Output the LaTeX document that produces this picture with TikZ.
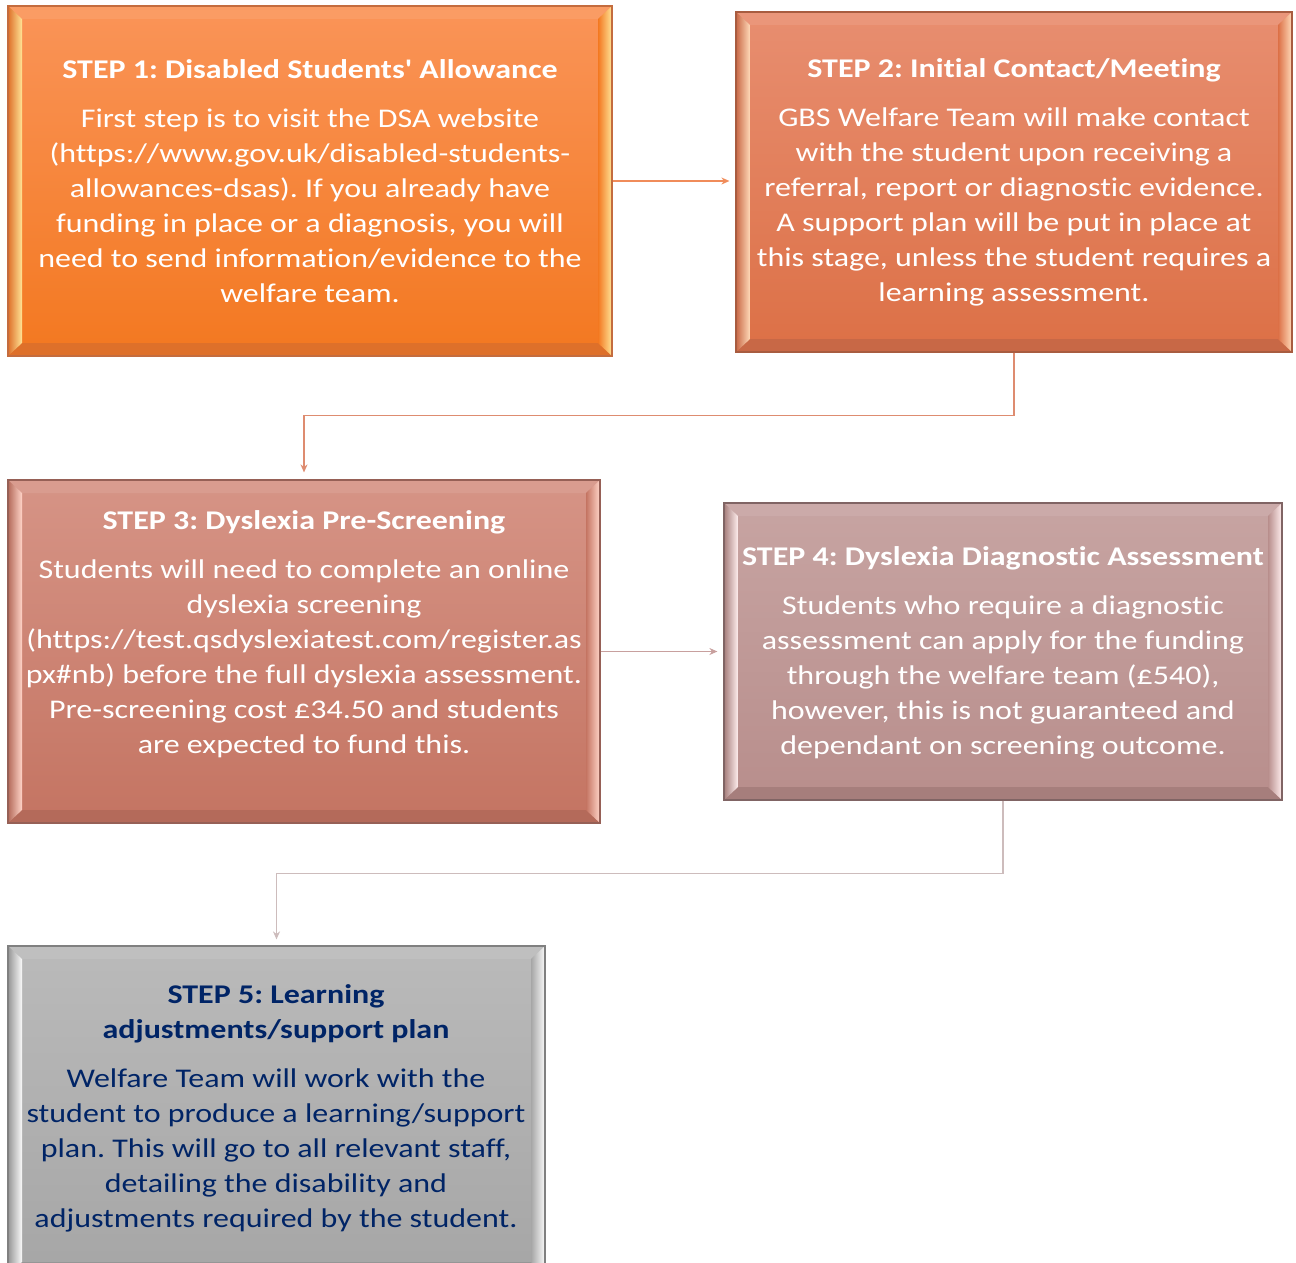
\documentclass[tikz,border=0pt]{standalone}
\usepackage{fontspec}
\setmainfont{Carlito}[Ligatures=NoCommon]
\frenchspacing
\usetikzlibrary{arrows.meta,calc}

% face colours (top / bottom), bevel highlight, bevel shade, rim
\definecolor{oneTop}{RGB}{250,148,88}
\definecolor{oneBot}{RGB}{243,120,32}
\definecolor{oneHi}{RGB}{255,228,150}
\definecolor{oneSh}{RGB}{222,112,42}
\definecolor{oneRim}{RGB}{196,108,62}

\definecolor{twoTop}{RGB}{232,142,112}
\definecolor{twoBot}{RGB}{220,112,70}
\definecolor{twoHi}{RGB}{255,218,185}
\definecolor{twoSh}{RGB}{200,104,70}
\definecolor{twoRim}{RGB}{168,92,64}

\definecolor{thrTop}{RGB}{214,148,134}
\definecolor{thrBot}{RGB}{196,116,98}
\definecolor{thrHi}{RGB}{255,212,200}
\definecolor{thrSh}{RGB}{180,106,90}
\definecolor{thrRim}{RGB}{150,96,86}

\definecolor{fouTop}{RGB}{199,164,162}
\definecolor{fouBot}{RGB}{184,142,140}
\definecolor{fouHi}{RGB}{255,238,238}
\definecolor{fouSh}{RGB}{166,126,124}
\definecolor{fouRim}{RGB}{128,100,100}

\definecolor{fivTop}{RGB}{186,186,186}
\definecolor{fivBot}{RGB}{166,166,166}
\definecolor{fivHi}{RGB}{250,250,250}
\definecolor{fivSh}{RGB}{150,150,150}
\definecolor{fivRim}{RGB}{128,128,128}

\definecolor{navy}{RGB}{0,36,102}
\definecolor{lnOne}{RGB}{240,140,90}
\definecolor{lnTwo}{RGB}{222,140,112}
\definecolor{lnThr}{RGB}{200,160,158}
\definecolor{lnFou}{RGB}{205,188,188}

\tikzset{
  % bevelled panel: #1 face top, #2 face bottom, #3 highlight, #4 shade, #5 rim
  bevelbox/.style n args={5}{
    rectangle, inner sep=0pt, top color=#1, bottom color=#2,
    draw=#5, line width=1.2pt,
    path picture={
      \coordinate (bNW) at (path picture bounding box.north west);
      \coordinate (bNE) at (path picture bounding box.north east);
      \coordinate (bSW) at (path picture bounding box.south west);
      \coordinate (bSE) at (path picture bounding box.south east);
      \coordinate (iNW) at ($(bNW)+(14pt,-13pt)$);
      \coordinate (iNE) at ($(bNE)+(-14pt,-13pt)$);
      \coordinate (iSW) at ($(bSW)+(14pt,13pt)$);
      \coordinate (iSE) at ($(bSE)+(-14pt,13pt)$);
      \fill[#4] (bSW) -- (bSE) -- (iSE) -- (iSW) -- cycle;
      \fill[#1!93!white] (bNW) -- (bNE) -- (iNE) -- (iNW) -- cycle;
      \shade[left color=#4, right color=#3] (bNW) -- (iNW) -- (iSW) -- (bSW) -- cycle;
      \shade[left color=#2, middle color=#3!70!#2, right color=#3] (bNE) -- (iNE) -- (iSE) -- (bSE) -- cycle;
    }
  },
  steptext/.style={align=center, text=white, inner sep=0pt, xscale=1.185,
    font=\fontsize{27}{35}\selectfont},
  link/.style={-{Stealth[length=8pt,width=7pt]}, line width=1.4pt},
}

\begin{document}
\begin{tikzpicture}[x=1pt,y=-1pt]
\useasboundingbox (0,0) rectangle (1296,1263);

% panels
\node[bevelbox={oneTop}{oneBot}{oneHi}{oneSh}{oneRim},
      minimum width=604pt, minimum height=350pt] (s1) at (310,181) {};
\node[bevelbox={twoTop}{twoBot}{twoHi}{twoSh}{twoRim},
      minimum width=556pt, minimum height=340pt] (s2) at (1014,182) {};
\node[bevelbox={thrTop}{thrBot}{thrHi}{thrSh}{thrRim},
      minimum width=592pt, minimum height=343pt] (s3) at (304,651.5) {};
\node[bevelbox={fouTop}{fouBot}{fouHi}{fouSh}{fouRim},
      minimum width=558pt, minimum height=297pt] (s4) at (1003,651.5) {};
\node[bevelbox={fivTop}{fivBot}{fivHi}{fivSh}{fivRim},
      minimum width=537pt, minimum height=329pt] (s5) at (276.5,1110.5) {};

% panel texts
\node[steptext] (t1) at (310,181.5) {\textbf{STEP 1: Disabled Students\textquotesingle\ Allowance}\\[14pt]
  First step is to visit the DSA website\\
  (https://www.gov.uk/disabled-students-\\
  allowances-dsas). If you already have\\
  funding in place or a diagnosis, you will\\
  need to send information/evidence to the\\
  welfare team.};

\node[steptext] (t2) at (1014,182) {\textbf{STEP 2: Initial Contact/Meeting}\\[14pt]
  GBS Welfare Team will make contact\\
  with the student upon receiving a\\
  referral, report or diagnostic evidence.\\
  A support plan will be put in place at\\
  this stage, unless the student requires a\\
  learning assessment.};

\node[steptext] (t3) at (304,634) {\textbf{STEP 3: Dyslexia Pre-Screening}\\[14pt]
  Students will need to complete an online\\
  dyslexia screening\\
  (https://test.qsdyslexiatest.com/register.as\\
  px\#nb) before the full dyslexia assessment.\\
  Pre-screening cost £34.50 and students\\
  are expected to fund this.};

\node[steptext] (t4) at (1003,652.5) {\textbf{STEP 4: Dyslexia Diagnostic Assessment}\\[14pt]
  Students who require a diagnostic\\
  assessment can apply for the funding\\
  through the welfare team (£540),\\
  however, this is not guaranteed and\\
  dependant on screening outcome.};

\node[steptext, text=navy] (t5) at (276,1108.5) {\textbf{STEP 5: Learning}\\
  \textbf{adjustments/support plan}\\[14pt]
  Welfare Team will work with the\\
  student to produce a learning/support\\
  plan. This will go to all relevant staff,\\
  detailing the disability and\\
  adjustments required by the student.};

% connectors
\draw[link, lnOne, shorten >=6pt] (s1.east) -- (s1.east -| s2.west);
\draw[link, lnTwo, shorten >=7pt] (s2.south) -- ++(0,63) -| (s3.north);
\draw[link, lnThr, shorten >=6pt] (s3.east) -- (s3.east -| s4.west);
\draw[link, lnFou, shorten >=6pt] (s4.south) -- ++(0,73) -| (s5.north);
\end{tikzpicture}
\end{document}
